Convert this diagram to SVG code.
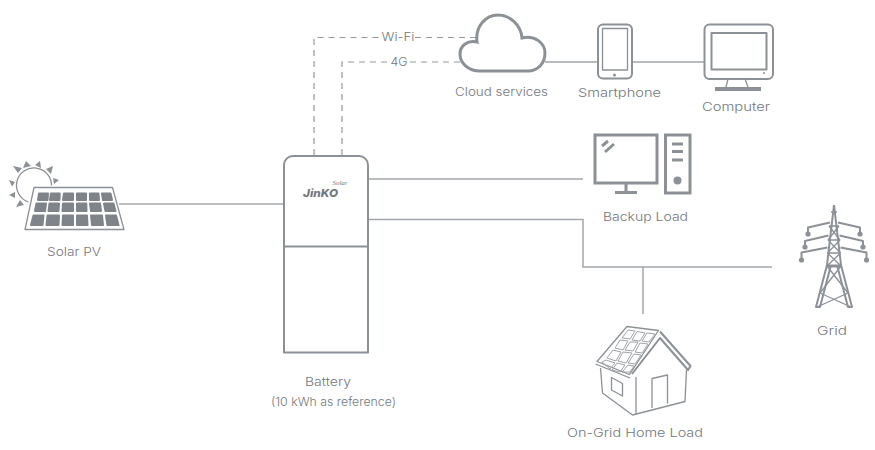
<svg xmlns="http://www.w3.org/2000/svg" width="875" height="450" viewBox="0 0 875 450">
<style>
text{font-family:"Inter","Noto Sans","Liberation Sans",sans-serif;font-size:12px;font-weight:300;fill:#74787d;text-anchor:middle}
.i{fill:none;stroke:#8c9097;stroke-width:2;stroke-linejoin:round}
.t{fill:none;stroke:#8c9097;stroke-width:1.3;stroke-linejoin:round}
.h{fill:none;stroke:#a0a3a8;stroke-width:1;stroke-linejoin:round}
.k{fill:none;stroke:#8c9097;stroke-width:3}
.f{fill:#8c9097}
.c{fill:none;stroke:#a3a6ab;stroke-width:1.5}
.d{fill:none;stroke:#94979c;stroke-width:1.200;stroke-dasharray:6 5}
</style>
<g id="connectors">
<path class="c" d="M118 204H284"/>
<path class="c" d="M368 179H583"/>
<path class="c" d="M368 219.500H583V267H772"/>
<path class="c" d="M643 267V314"/>
<path class="c" d="M545 62H598M632 62H704"/>
<path class="d" d="M314 155V37.500H381M415 37.500H477"/>
<path class="d" d="M342 155V62H391M410 62H460"/>
</g>
<g id="solar-pv">
<path class="t" d="M51.500 186A17.500 17.500 0 1 0 28.500 202"/>
<path class="f" d="M23 168L26 161L31 166ZM35 165L40 161L41 168ZM46 169L53 166L51 174ZM53 178L59 180L54 184ZM15 182L9 180L12 186.500ZM15 192L9 195L15 198ZM20 200L16 207L24 205ZM18 173L13 166L22 168Z"/>
<path fill="#fff" stroke="#fff" stroke-width="4" d="M34 187.500H112.500L124 229.500H25Z"/>
<path class="t" d="M34 187.500H112.500L124 229.500H25Z"/>
<g fill="#7f838a" stroke="#7f838a" stroke-width="2" stroke-linejoin="round">
<path d="M39 193.500H48L47.500 200H38ZM51 193.500H59.700L59.500 200H50ZM64 193.500H73L73 200H63ZM77 193.500H86L86 200H77ZM90 193.500H98.500L99 200H90ZM102 193.500H110.500L112 200H103Z"/>
<path d="M36.500 203.500H46L45 211H35ZM49.500 203.500H59L58.500 211H48.500ZM63 203.500H73L73 211H62.500ZM77 203.500H86.300L86.500 211H77ZM90 203.500H100L101 211H91ZM104 203.500H113.500L115.500 211H105.500Z"/>
<path d="M33.500 215.500H43.500L42.500 225H31ZM47.500 215.500H59L58.500 225H46.500ZM63 215.500H73L73 225H62.500ZM77 215.500H87L87.500 225H77ZM91 215.500H102L103 225H92ZM106 215.500H116L118.500 225H107.500Z"/>
</g>
<text x="74" y="256" textLength="54" lengthAdjust="spacingAndGlyphs">Solar PV</text>
</g>
<g id="battery">
<path class="i" d="M284 352.500V165A9 9 0 0 1 293 156H359A9 9 0 0 1 368 165V352.500ZM284 246.500H368"/>
<text x="320.500" y="196.500" style="font-size:11px;font-weight:800;font-style:italic" textLength="35" lengthAdjust="spacingAndGlyphs">JinKO</text>
<text x="340" y="185" style="font-size:5.500px;font-style:italic;font-family:'Liberation Serif',serif" textLength="15" lengthAdjust="spacingAndGlyphs">Solar</text>
<text x="328" y="386" textLength="46" lengthAdjust="spacingAndGlyphs">Battery</text>
<text x="333.500" y="406" textLength="125" lengthAdjust="spacingAndGlyphs">(10 kWh as reference)</text>
</g>
<g id="wifi-label"><text x="398" y="41" textLength="33" lengthAdjust="spacingAndGlyphs">Wi-Fi</text></g>
<g id="4g-label"><text x="399" y="65.500" textLength="17" lengthAdjust="spacingAndGlyphs">4G</text></g>
<g id="cloud">
<path class="k" d="M480 71C468 71 460 63 460 54C460 46 467 40 477 42C475 26 486 15 498 15C510 15 521 25 522 38C535 35 545 43 545 53C545 63 538 71 528 71Z"/>
<text x="501.500" y="96" textLength="93" lengthAdjust="spacingAndGlyphs">Cloud services</text>
</g>
<g id="smartphone">
<rect class="i" x="598" y="24.500" width="34" height="54" rx="5"/>
<rect class="t" x="602.500" y="28.500" width="25" height="41.500"/>
<circle class="f" cx="614.500" cy="75" r="1.500"/>
<text x="619.500" y="97" textLength="83" lengthAdjust="spacingAndGlyphs">Smartphone</text>
</g>
<g id="computer">
<rect class="i" x="704.500" y="24.500" width="68.500" height="54.500" rx="5"/>
<rect class="i" x="711.500" y="33" width="55" height="36.500"/>
<circle class="f" cx="764" cy="73" r="1"/>
<path class="t" d="M728 79L726 87M745 79L748 87"/>
<rect class="f" x="715" y="87" width="46" height="4"/>
<text x="736" y="111" textLength="68" lengthAdjust="spacingAndGlyphs">Computer</text>
</g>
<g id="backup-load">
<rect class="k" x="595" y="135" width="62" height="48"/>
<path class="k" d="M626 183V192M615 192.500H637"/>
<path class="k" d="M602 146L608 141M605 152L614 144"/>
<rect class="k" x="665.500" y="135" width="24.500" height="58"/>
<path class="k" d="M672 144H683M672 151.500H683M672 160H683"/>
<circle class="f" cx="677.500" cy="180.500" r="4"/>
<text x="645.500" y="221" textLength="85" lengthAdjust="spacingAndGlyphs">Backup Load</text>
</g>
<g id="grid">
<path class="i" stroke-width="1.800" d="M834 205L827 265L816 307L820 307L831 265M834 205L841 265L852 307L848 307L837 265"/>
<path class="t" d="M831 212H837M829 226H839M828 240H840M827.500 253H840.500M829 226L840 240M839 226L828 240M828 240L840.500 253M840 240L827.500 253M827.500 253L841 266M840.500 253L827 266M827 266L848 293M841 266L820 293M820 293L851 307M848 293L817 307"/>
<path class="k" d="M826 266H842"/>
<path class="i" stroke-width="2.400" d="M808 233V227.500L830 222.500M860 233V227.500L838 222.500M805 246V241L828.500 235.500M863 246V241L839.500 235.500M801.500 259V252.500L827.500 247.500M866.500 259V252.500L840.500 247.500"/>
<g class="f"><circle cx="808" cy="234" r="2.600"/><circle cx="860" cy="234" r="2.600"/><circle cx="805" cy="247" r="2.600"/><circle cx="863" cy="247" r="2.600"/><circle cx="801.500" cy="260" r="2.600"/><circle cx="866.500" cy="260" r="2.600"/></g>
<text x="832" y="335" textLength="30" lengthAdjust="spacingAndGlyphs">Grid</text>
</g>
<g id="home-load">
<path class="t" d="M600.500 368L602.500 393L632.500 415L685 401.500L686.500 370"/>
<path class="i" stroke-width="1.500" d="M660 331.500L690.500 366L688 370L660 338L632 374"/>
<path class="t" d="M636 377V414"/>
<path class="t" d="M627 326.500L658.500 330.500L629.500 374.500L597 361.500ZM595.500 364L630 378"/>
<path class="h" d="M628 330L635 331L630 339L622 338ZM637 331.500L645 333L640 341L632 340ZM647 333L655 334L649 342L642 341ZM620 340L628 341L623 350L615 348ZM630 342L638 342L633 351L625 350ZM640 343L648 344L642 353L635 352ZM613 350L621 352L616 361L607 358ZM623 352L632 353L626 363L618 361ZM634 354L641 355L635 364L628 363ZM606 360L615 363L610 369L602 362ZM617 363L625 365L620 372L612 370ZM628 365L634 366L630 372L622 372Z"/>
<path class="t" d="M611.500 377.500L622.500 383.500V396L611.500 390Z"/>
<path class="t" d="M652 408V378.500L667.500 375V403.500"/>
<text x="635" y="437" textLength="136" lengthAdjust="spacingAndGlyphs">On-Grid Home Load</text>
</g>
</svg>
